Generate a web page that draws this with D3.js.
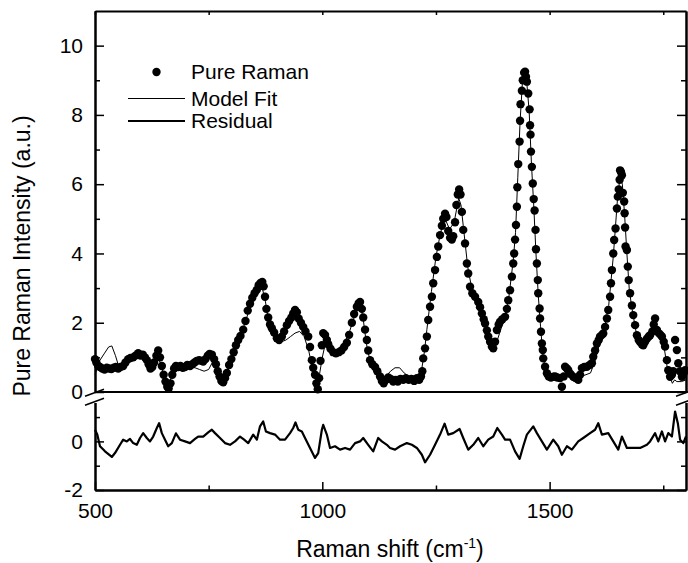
<!DOCTYPE html>
<html>
<head>
<meta charset="utf-8">
<script src="https://cdn.jsdelivr.net/npm/d3@7"></script>
<style>
body { margin: 0; background: #fff; }
svg text { font-family: "Liberation Sans", Arial, sans-serif; fill: #000; }
</style>
</head>
<body>
<svg id="chart" width="688" height="563"></svg>
<script>
// measured spectrum (Raman shift, intensity)
var ramanX = [500,503,507,511,516,521,526,531,536,541,546,551,556,562,567,573,578,584,589,595,600,605,610,614,618,622,626,630,635,639,643,647,651,655,659,662,666,670,674,678,683,688,693,698,703,709,714,719,724,729,734,738,743,748,752,757,762,766,770,774,778,782,786,790,795,800,805,810,815,820,826,831,836,841,846,851,856,860,864,868,871,874,877,881,885,889,894,900,905,911,916,922,927,932,936,940,944,948,953,958,963,969,973,977,980,984,987,990,993,996,999,1002,1006,1010,1013,1018,1024,1030,1036,1042,1048,1054,1059,1065,1070,1076,1080,1083,1087,1090,1094,1098,1101,1105,1110,1116,1121,1127,1131,1135,1140,1145,1150,1156,1161,1166,1172,1178,1184,1190,1196,1202,1208,1213,1217,1220,1222,1226,1230,1233,1237,1241,1244,1248,1252,1255,1259,1263,1266,1270,1273,1277,1281,1285,1288,1292,1295,1298,1301,1304,1307,1310,1314,1318,1321,1325,1330,1336,1343,1347,1351,1355,1358,1362,1365,1369,1373,1376,1380,1384,1388,1391,1396,1402,1406,1409,1413,1417,1420,1422,1424,1426,1428,1429,1431,1434,1435,1436,1439,1441,1444,1446,1448,1450,1453,1456,1457,1458,1459,1461,1463,1465,1467,1469,1470,1472,1474,1475,1478,1479,1481,1483,1485,1486,1490,1494,1498,1503,1508,1512,1517,1523,1527,1531,1534,1538,1541,1546,1552,1557,1563,1567,1571,1576,1582,1588,1593,1596,1600,1604,1608,1611,1615,1618,1622,1626,1629,1633,1635,1637,1640,1642,1645,1648,1650,1652,1654,1655,1657,1659,1661,1664,1665,1666,1667,1670,1672,1674,1677,1681,1684,1688,1692,1696,1699,1703,1706,1710,1714,1718,1721,1726,1729,1732,1736,1740,1744,1747,1751,1754,1758,1761,1765,1769,1772,1776,1780,1783,1787,1791,1795,1798];
var ramanY = [0.95,0.85,0.75,0.72,0.68,0.65,0.7,0.68,0.66,0.7,0.72,0.68,0.72,0.75,0.85,0.95,0.98,1.0,1.05,1.12,1.05,1.08,1.0,0.92,0.8,0.68,0.72,0.85,1.05,1.2,1.0,0.75,0.5,0.3,0.15,0.1,0.25,0.5,0.68,0.75,0.72,0.75,0.7,0.72,0.78,0.75,0.8,0.85,0.9,0.92,0.9,0.88,0.95,1.05,1.1,1.08,0.95,0.8,0.6,0.45,0.32,0.28,0.4,0.55,0.78,0.95,1.15,1.35,1.5,1.62,1.8,2.05,2.35,2.55,2.72,2.85,2.95,3.08,3.15,3.18,3.05,2.75,2.4,2.15,1.95,1.84,1.72,1.55,1.5,1.6,1.75,1.93,2.05,2.15,2.27,2.37,2.3,2.12,2.0,1.88,1.75,1.6,1.3,0.92,0.7,0.5,0.25,0.08,0.4,0.9,1.35,1.7,1.65,1.5,1.38,1.25,1.15,1.12,1.15,1.2,1.3,1.42,1.65,2.0,2.25,2.46,2.56,2.6,2.4,2.15,1.8,1.5,1.2,0.92,0.8,0.72,0.6,0.45,0.32,0.25,0.35,0.42,0.38,0.3,0.35,0.3,0.38,0.35,0.4,0.35,0.38,0.32,0.4,0.35,0.45,0.6,0.97,1.26,1.6,2.08,2.46,2.75,3.14,3.52,3.9,4.2,4.53,4.8,5.0,5.15,5.05,4.65,4.45,4.4,4.5,4.9,5.4,5.7,5.85,5.7,5.2,4.68,4.29,3.71,3.42,3.04,2.85,2.75,2.6,2.45,2.27,2.1,1.98,1.78,1.6,1.45,1.31,1.26,1.45,1.79,1.95,2.03,2.1,2.17,2.4,2.65,2.94,3.33,3.71,4.0,4.4,4.82,5.35,5.91,6.58,7.23,7.83,8.31,8.7,9.0,9.22,9.25,9.1,8.96,8.62,8.16,7.7,7.43,6.94,6.5,6.02,5.57,5.24,4.68,4.12,3.71,3.23,2.85,2.41,2.12,1.74,1.4,1.21,0.97,0.73,0.54,0.45,0.42,0.44,0.45,0.42,0.4,0.15,0.45,0.73,0.68,0.63,0.52,0.44,0.4,0.35,0.5,0.69,0.72,0.73,0.78,0.83,1.02,1.2,1.4,1.5,1.6,1.65,1.69,1.88,2.12,2.37,2.75,3.14,3.52,4.0,4.39,4.72,5.3,5.64,5.85,6.13,6.4,6.35,6.26,5.75,5.5,5.16,4.75,4.2,4.1,3.62,3.23,2.85,2.5,2.22,1.93,1.64,1.5,1.44,1.38,1.35,1.45,1.54,1.6,1.64,1.75,1.95,2.12,1.79,1.7,1.65,1.6,1.45,1.31,0.92,0.63,0.44,0.5,0.6,1.5,1.21,0.83,0.6,0.44,0.55,0.63];

// model fit curve
var fitX = [500,510,520,530,537,545,552,560,570,580,590,600,610,620,630,640,645,650,655,660,665,670,680,690,700,710,720,730,740,750,760,770,780,790,800,810,820,830,840,850,860,868,875,880,890,900,910,920,930,940,950,960,970,978,985,990,995,1000,1005,1010,1020,1030,1040,1050,1060,1070,1080,1085,1090,1095,1100,1110,1120,1130,1140,1150,1160,1170,1180,1190,1200,1210,1218,1225,1230,1240,1250,1260,1270,1280,1290,1300,1305,1310,1320,1330,1340,1350,1360,1370,1380,1390,1400,1410,1420,1425,1430,1435,1440,1445,1450,1455,1460,1465,1470,1475,1480,1485,1490,1500,1510,1520,1530,1540,1550,1560,1570,1580,1590,1600,1610,1620,1630,1640,1645,1650,1655,1660,1665,1670,1675,1680,1690,1700,1710,1720,1730,1740,1750,1760,1770,1775,1780,1790,1800];
var fitY = [0.5,0.9,1.1,1.3,1.33,1.05,0.75,0.7,0.85,0.95,1.0,1.0,0.95,0.8,0.8,0.95,0.8,0.55,0.35,0.2,0.3,0.55,0.7,0.75,0.72,0.72,0.7,0.65,0.6,0.65,0.9,0.65,0.35,0.5,0.95,1.3,1.6,2.0,2.4,2.7,2.95,3.0,2.6,2.2,1.75,1.55,1.45,1.5,1.6,1.7,1.75,1.6,1.2,0.7,0.35,0.2,0.6,1.0,1.3,1.35,1.25,1.2,1.3,1.45,1.75,2.15,2.45,2.45,2.1,1.6,1.15,0.75,0.6,0.45,0.45,0.6,0.7,0.7,0.55,0.45,0.45,0.45,0.6,1.2,1.8,2.9,3.9,4.6,5.0,4.7,4.9,5.6,5.4,4.8,3.6,2.9,2.6,2.3,1.9,1.5,1.3,1.7,2.1,2.7,3.8,4.6,6.2,7.8,8.9,9.2,8.9,8.1,6.6,5.4,4.0,2.8,1.9,1.1,0.7,0.45,0.4,0.45,0.5,0.55,0.4,0.35,0.45,0.5,0.55,0.9,1.4,1.8,2.5,3.9,4.8,5.7,6.2,6.0,5.1,4.0,3.0,2.5,1.75,1.4,1.4,1.6,1.75,1.7,1.45,0.6,0.25,0.35,0.3,0.3,0.35];

// residual
var resX = [500,505,511,522,537,544,555,562,570,577,584,592,599,606,614,621,628,636,641,647,654,661,669,678,687,698,709,720,727,738,749,757,764,775,786,797,808,819,828,837,848,856,863,870,876,885,896,907,918,929,936,941,947,955,962,973,984,991,999,1002,1010,1017,1028,1039,1050,1061,1072,1083,1090,1101,1112,1123,1131,1142,1149,1160,1171,1186,1197,1208,1219,1226,1237,1248,1259,1269,1277,1288,1302,1310,1321,1332,1343,1354,1365,1376,1385,1395,1402,1413,1424,1434,1442,1450,1464,1472,1483,1494,1508,1519,1527,1538,1549,1563,1574,1589,1600,1607,1615,1629,1640,1651,1659,1670,1684,1699,1714,1721,1732,1739,1747,1754,1761,1769,1776,1782,1787,1794,1800];
var resY = [0.48,0.28,-0.2,-0.41,-0.64,-0.48,-0.14,0.07,0,0.1,-0.07,-0.14,0.14,0.34,0.14,0,0.2,0.55,0.75,0.34,0.07,-0.2,-0.07,0.33,0.07,0,-0.07,0.1,0.2,0.2,0.37,0.48,0.34,0.14,-0.07,-0.14,0,0.2,0.07,-0.07,0.28,0.07,0.62,0.82,0.41,0.34,0.28,0.07,0.07,0.34,0.55,0.78,0.48,0.41,0.14,-0.27,-0.68,-0.48,0.48,0.68,0.28,-0.27,-0.2,-0.34,-0.27,-0.34,-0.07,0,0.14,-0.14,-0.41,0.14,0,-0.14,-0.27,-0.34,-0.2,-0.07,-0.14,-0.27,-0.55,-0.86,-0.55,-0.14,0.28,0.73,0.28,0.34,0.51,0.14,-0.34,-0.14,0.14,-0.2,0.07,0.2,0.55,0.28,0.07,0.07,-0.41,-0.72,-0.2,0.28,0.62,0.34,0,-0.34,0.07,-0.2,-0.55,-0.2,-0.34,0,0.14,0.34,0.48,0.75,0.28,0.34,0,-0.34,0.2,-0.27,-0.27,-0.27,-0.14,0,0.34,0,0.41,0,0.34,0.2,1.23,0.75,0.07,-0.07,0.2];

var legendLabels = ["Pure Raman", "Model Fit", "Residual"];
var topMajor = [0, 2, 4, 6, 8, 10], topMinor = [1, 3, 5, 7, 9];
var botMajor = [-2, 0], botMinor = [-1, 1];
var xMajor = [500, 1000, 1500], xMinor = [750, 1250, 1750];

var svg = d3.select("#chart");

var x = d3.scaleLinear().domain([500, 1800]).range([95, 686]);
var yTop = d3.scaleLinear().domain([0, 11]).range([392, 11]);
var yBot = d3.scaleLinear().domain([-2, 1.6]).range([490, 402.5]);

var raman = ramanX.map(function (d, i) { return {x: d, y: ramanY[i]}; });
var fit = fitX.map(function (d, i) { return {x: d, y: fitY[i]}; });
var resid = resX.map(function (d, i) { return {x: d, y: resY[i]}; });

var plain = function (d) { return String(d); };

function axisStyle(g) {
    g.selectAll("path.domain").attr("stroke", "#000").attr("stroke-width", 2);
    g.selectAll(".tick line").attr("stroke", "#000").attr("stroke-width", 1.5);
    g.selectAll(".tick text").attr("font-size", 21).attr("font-family", "Liberation Sans, Arial, sans-serif");
}

// left axes
svg.append("g").attr("transform", "translate(95,0)")
    .call(d3.axisLeft(yTop).tickValues(topMajor).tickFormat(plain).tickSizeInner(-9).tickSizeOuter(0).tickPadding(12))
    .call(axisStyle);
svg.append("g").attr("transform", "translate(95,0)")
    .call(d3.axisLeft(yTop).tickValues(topMinor).tickSizeInner(-5).tickSizeOuter(0).tickFormat(""))
    .call(axisStyle);
svg.append("g").attr("transform", "translate(95,0)")
    .call(d3.axisLeft(yBot).tickValues(botMajor).tickFormat(plain).tickSizeInner(-9).tickSizeOuter(0).tickPadding(12))
    .call(axisStyle);
svg.append("g").attr("transform", "translate(95,0)")
    .call(d3.axisLeft(yBot).tickValues(botMinor).tickSizeInner(-5).tickSizeOuter(0).tickFormat(""))
    .call(axisStyle);

// right axes
[[yTop, topMajor, 9], [yTop, topMinor, 5], [yBot, botMajor, 9], [yBot, botMinor, 5]].forEach(function (a) {
    svg.append("g").attr("transform", "translate(686,0)")
        .call(d3.axisRight(a[0]).tickValues(a[1]).tickSizeInner(-a[2]).tickSizeOuter(0).tickFormat(""))
        .call(axisStyle);
});

// bottom and top axes
svg.append("g").attr("transform", "translate(0,490)")
    .call(d3.axisBottom(x).tickValues(xMajor).tickFormat(plain).tickSizeInner(-8).tickSizeOuter(0).tickPadding(13))
    .call(axisStyle);
svg.append("g").attr("transform", "translate(0,490)")
    .call(d3.axisBottom(x).tickValues(xMinor).tickSizeInner(-4.5).tickSizeOuter(0).tickFormat(""))
    .call(axisStyle);
svg.append("g").attr("transform", "translate(0,11)")
    .call(d3.axisTop(x).tickValues(xMajor.concat(xMinor)).tickSizeInner(-4).tickSizeOuter(0).tickFormat(""))
    .call(axisStyle);

// zero line of the upper panel
svg.append("line")
    .attr("x1", x(500)).attr("x2", x(1800))
    .attr("y1", yTop(0)).attr("y2", yTop(0))
    .attr("stroke", "#000").attr("stroke-width", 2);

// axis break marks
var breakY = (yTop(0) + yBot(1.6)) / 2;
[x(500), x(1800)].forEach(function (bx) {
    [-4.5, 4.5].forEach(function (off) {
        svg.append("line")
            .attr("x1", bx - 10).attr("x2", bx + 9)
            .attr("y1", breakY + off + 3.5).attr("y2", breakY + off - 3.5)
            .attr("stroke", "#000").attr("stroke-width", 1.5);
    });
});

// model fit
svg.append("path").datum(fit)
    .attr("fill", "none").attr("stroke", "#000").attr("stroke-width", 1)
    .attr("d", d3.line().x(function (d) { return x(d.x); }).y(function (d) { return yTop(d.y); }));

// measured points
svg.append("g").selectAll("circle").data(raman).enter().append("circle")
    .attr("cx", function (d) { return x(d.x); })
    .attr("cy", function (d) { return yTop(d.y); })
    .attr("r", 4.2)
    .attr("fill", "#000");

// residual
svg.append("path").datum(resid)
    .attr("fill", "none").attr("stroke", "#000").attr("stroke-width", 2.2)
    .attr("stroke-linejoin", "round")
    .attr("d", d3.line().x(function (d) { return x(d.x); }).y(function (d) { return yBot(d.y); }));

// legend
var rowY = [72, 98.5, 121];
var leg = svg.append("g");
leg.append("circle").attr("cx", 156.5).attr("cy", rowY[0]).attr("r", 4.2).attr("fill", "#000");
leg.append("line").attr("x1", 128).attr("x2", 185).attr("y1", rowY[1]).attr("y2", rowY[1])
    .attr("stroke", "#000").attr("stroke-width", 1);
leg.append("line").attr("x1", 128).attr("x2", 185).attr("y1", rowY[2]).attr("y2", rowY[2])
    .attr("stroke", "#000").attr("stroke-width", 2.2);
leg.selectAll("text").data(legendLabels).enter().append("text")
    .attr("x", 191)
    .attr("y", function (d, i) { return rowY[i]; })
    .attr("dy", "0.35em")
    .attr("font-size", 21)
    .text(function (d) { return d; });

// axis titles
var xt = svg.append("text").attr("x", 390).attr("y", 557).attr("text-anchor", "middle").attr("font-size", 23);
xt.append("tspan").text("Raman shift (cm");
xt.append("tspan").attr("dy", -9).attr("font-size", 14).text("-1");
xt.append("tspan").attr("dy", 9).text(")");

svg.append("text")
    .attr("transform", "translate(30,256) rotate(-90)")
    .attr("text-anchor", "middle").attr("font-size", 23)
    .text("Pure Raman Intensity (a.u.)");
</script>
</body>
</html>
